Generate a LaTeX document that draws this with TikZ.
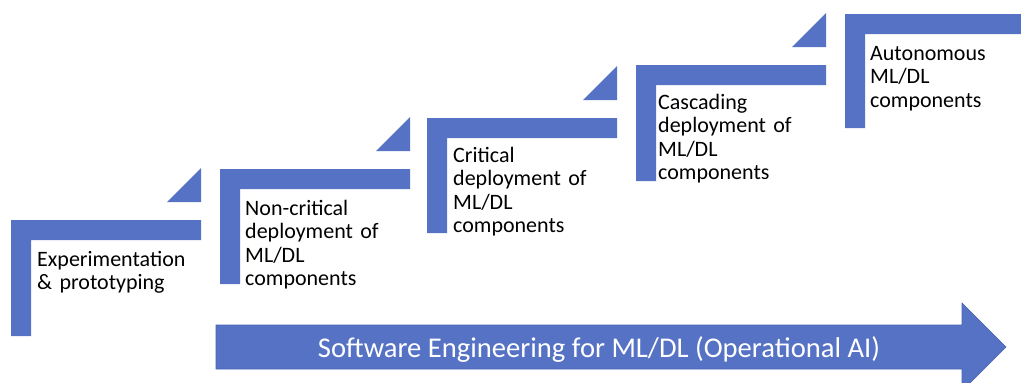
\documentclass[tikz,border=0pt]{standalone}
\usepackage{fontspec}
\setmainfont{Carlito}
\definecolor{stepblue}{RGB}{85,114,196}
\definecolor{stepedge}{RGB}{72,100,180}
\begin{document}
\begin{tikzpicture}[x=1pt,y=-1pt,
  stepfill/.style={fill=stepblue},
  steplabel/.style={anchor=base west,inner sep=0pt,align=left,text width=220pt,
    font=\fontsize{22pt}{23.6pt}\selectfont},
  bandlabel/.style={anchor=base,inner sep=0pt,text=white,
    font=\fontsize{28.6pt}{34pt}\selectfont}]
\useasboundingbox (0,0) rectangle (1021,383);
\clip (0,0) rectangle (1021,383);

% stair steps: left edge, top edge, bottom of the upright bar
\foreach \xl/\yt/\yb in {11/220/336, 220/169/284, 427/118/233, 636/65/181, 845/14/128}{
  \fill[stepfill] (\xl,\yt) -- ++(190,0) -- ++(0,20) -- ++(-170,0)
    -- (\xl+20,\yb) -- (\xl,\yb) -- cycle;
  \fill[stepfill] (\xl+156,\yt-18) -- ++(34,0) -- ++(0,-34) -- cycle;
}

\node[steplabel] (s1) at (37,266) {Experimentation\\\& prototyping};
\node[steplabel] (s2) at (245,215) {Non-critical\\deployment of\\ML/DL\\components};
\node[steplabel] (s3) at (453,162) {Critical\\deployment of\\ML/DL\\components};
\node[steplabel] (s4) at (658,109) {Cascading\\deployment of\\ML/DL\\components};
\node[steplabel] (s5) at (870,60) {Autonomous\\ML/DL\\components};

% long arrow along the bottom
\filldraw[stepfill,draw=stepedge,line width=0.6pt]
  (216,325) -- (962,325) -- (962,303) -- (1006,347) -- (962,391)
  -- (962,369) -- (216,369) -- cycle;
\node[bandlabel] (band) at (599,357) {Software Engineering for ML/DL (Operational AI)};
\end{tikzpicture}
\end{document}
